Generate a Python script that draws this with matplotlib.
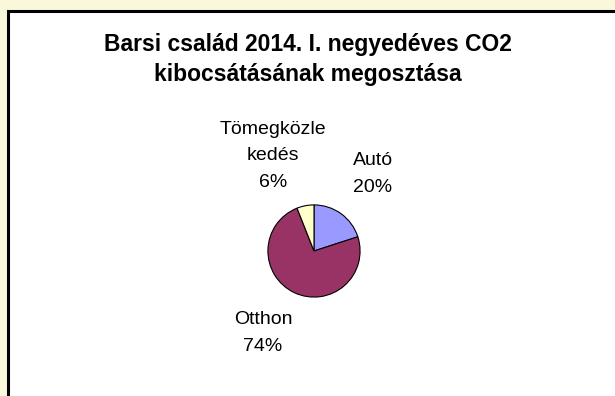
import matplotlib
matplotlib.use('Agg')
import matplotlib.pyplot as plt
from matplotlib.patches import Rectangle

plt.rcParams['font.family'] = ['Liberation Sans', 'DejaVu Sans']

# CO2 emission shares, Q1 2014
labels = ['Autó', 'Otthon', 'Tömegközle\nkedés']
shares = [20, 74, 6]
colors = ['#9999FF', '#993366', '#FFFFCC']

W, H = 615, 396
fig = plt.figure(figsize=(W / 100, H / 100), dpi=100, facecolor='#FAF8DA')

def fx(px):
    return px / W

def fy(py):
    return 1 - py / H

# white chart area with black frame, running off the right and bottom edges
fig.patches.append(Rectangle((fx(8), fy(H + 20)), 1, fy(11) - fy(H + 20),
                             transform=fig.transFigure, facecolor='white',
                             edgecolor='black', linewidth=2.2, zorder=-1))

fig.text(fx(308), fy(45), 'Barsi család 2014. I. negyedéves CO2',
         ha='center', va='center', fontsize=16.5, fontweight='bold')
fig.text(fx(308), fy(75), 'kibocsátásának megosztása',
         ha='center', va='center', fontsize=16.5, fontweight='bold')

cx, cy, r = 314, 251, 47
ax = fig.add_axes([fx(cx - r), fy(cy + r), 2 * r / W, 2 * r / H])
ax.pie(shares, colors=colors, startangle=90, counterclock=False,
       wedgeprops=dict(edgecolor='black', linewidth=0.8))
ax.set_xlim(-1.02, 1.02)
ax.set_ylim(-1.02, 1.02)
ax.axis('off')

label_pos = [(373, 174), (263, 333), (273, 156)]
for lab, val, (px, py) in zip(labels, shares, label_pos):
    fig.text(fx(px), fy(py), f'{lab}\n{val}%', ha='center', va='center',
             fontsize=14, linespacing=1.75)

fig.savefig('out.png', dpi=100, facecolor=fig.get_facecolor())
